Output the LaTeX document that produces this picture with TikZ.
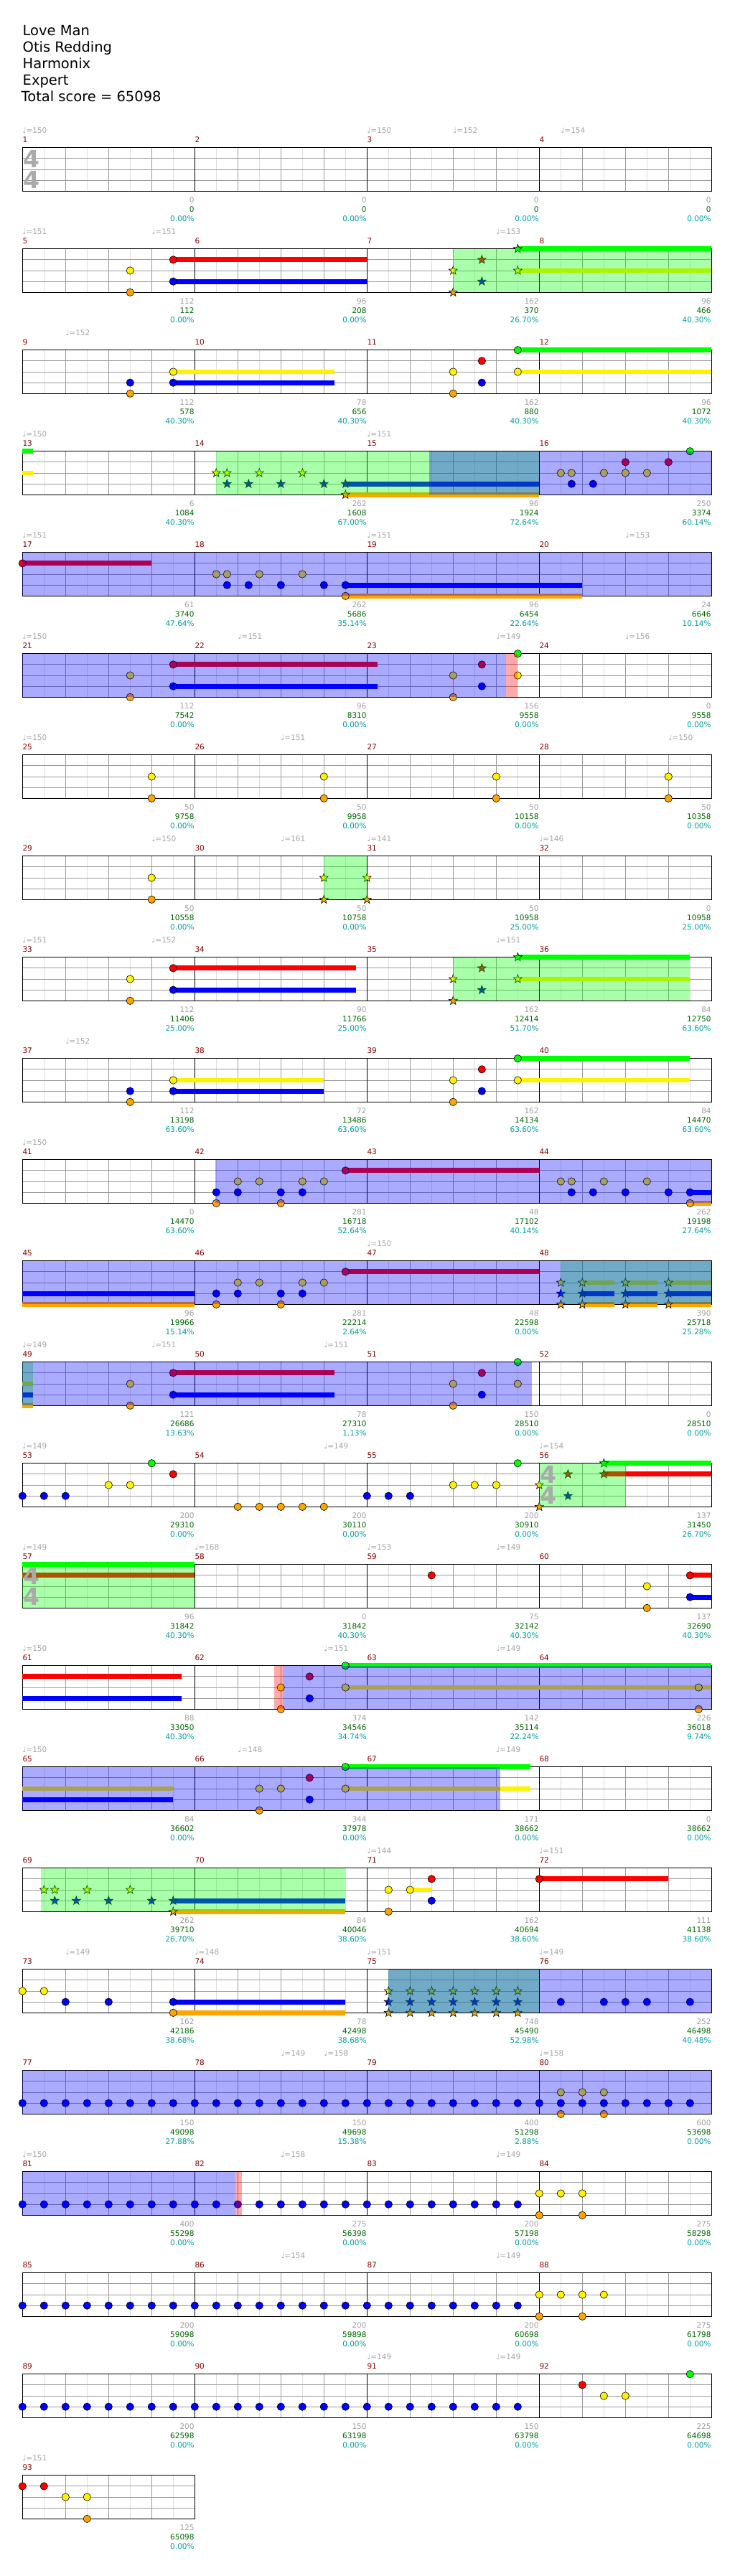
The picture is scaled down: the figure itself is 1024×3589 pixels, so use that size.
\documentclass[tikz,border=0pt]{standalone}
\usepackage{fontspec}
\setmainfont{DejaVu Sans}
\pgfdeclarelayer{bg}
\pgfsetlayers{bg,main}
\definecolor{ybcol}{RGB}{255,255,204}
\definecolor{mnumc}{RGB}{140,0,0}
\definecolor{tmc}{RGB}{165,165,165}
\definecolor{sgc}{RGB}{160,160,160}
\definecolor{sgrc}{RGB}{0,105,0}
\definecolor{spc}{RGB}{0,160,160}
\definecolor{lgc}{RGB}{222,222,222}
\definecolor{mgc}{RGB}{155,155,155}
\definecolor{kick}{RGB}{255,165,0}
\definecolor{tsc}{RGB}{170,170,170}
\newcount\lblcnt
\newcommand\dRow[1]{\pgfmathsetmacro\T{205.7+(#1-1)*141}}
\newcommand\dNc[3]{\filldraw[fill=#3,draw=black,line width=0.6pt] ({31.3+60*(#1)},{\T+15.15*(#2)}) circle[radius=5.2pt];}
\newcommand\dNs[3]{\filldraw[fill=#3,draw=black,line width=0.6pt,shift={({31.3+60*(#1)},{\T+15.15*(#2)})}] (270:6.3)--(306:2.6)--(342:6.3)--(18:2.6)--(54:6.3)--(90:2.6)--(126:6.3)--(162:2.6)--(198:6.3)--(234:2.6)--cycle;}
\newcommand\dSu[4]{\fill[#4] ({31.3+60*(#1)},{\T+15.15*(#3)-3.4}) rectangle ({31.3+60*(#2)},{\T+15.15*(#3)+3.4});}
\newcommand\dOv[3]{\fill[#3,fill opacity=0.3333] ({31.3+60*(#1)},{\T}) rectangle ({31.3+60*(#2)},{\T+60.6});}
\newcommand\dYb[2]{\begin{pgfonlayer}{bg}\fill[ybcol] ({31.3+60*(#1)},{\T-10}) rectangle ({31.3+60*(#2)},{\T+71});\end{pgfonlayer}}
\newcommand\dTm[2]{\global\advance\lblcnt by 1 \node[tempo] (t\the\lblcnt) at ({31.3+60*(#1)},{\T-20}) {♩=#2};}
\newcommand\dTs[1]{\global\advance\lblcnt by 1 \node[tsig] (ts\the\lblcnt) at ({44.3+60*(#1)},{\T+27.3}) {4};\node[tsig] (tt\the\lblcnt) at ({44.3+60*(#1)},{\T+57}) {4};}
\newcommand\dSc[4]{\global\advance\lblcnt by 1
  \node[sg] (g\the\lblcnt) at ({30.8+240*(#1+1)},{\T+76.4}) {#2};
  \node[sgr] (c\the\lblcnt) at ({30.8+240*(#1+1)},{\T+89.7}) {#3};
  \node[sp] (p\the\lblcnt) at ({30.8+240*(#1+1)},{\T+102.4}) {#4};}
\tikzset{
  small/.style={inner sep=0pt,font=\fontsize{10.5}{12}\selectfont},
  tempo/.style={small,text=tmc,anchor=base west},
  mnum/.style={small,text=mnumc,anchor=base west},
  sg/.style={small,text=sgc,anchor=base east},
  sgr/.style={small,text=sgrc,anchor=base east},
  sp/.style={small,text=spc,anchor=base east},
  title/.style={inner sep=0pt,anchor=base west,font=\fontsize{19.5}{22}\selectfont},
  tsig/.style={inner sep=0pt,anchor=base,text=tsc,font=\bfseries\fontsize{33}{36}\selectfont},
}
\begin{document}
\begin{tikzpicture}[x=1pt,y=-1pt]
\useasboundingbox (0,0) rectangle (1024,3589);
\fill[white] (0,0) rectangle (1024,3589);
% title
\node[title] (ti1) at (31.5,49.3) {Love Man};
\node[title] (ti2) at (31.5,72.3) {Otis Redding};
\node[title] (ti3) at (31.5,95.3) {Harmonix};
\node[title] (ti4) at (31.5,118.3) {Expert};
\node[title] (ti5) at (29.5,141.3) {Total score = 65098};
% grids
\foreach \r in {1,...,24} {
  \pgfmathsetmacro\TT{205.7+(\r-1)*141}
  \pgfmathtruncatemacro\nm{\r==24 ? 1 : 4}
  \pgfmathtruncatemacro\ne{8*\nm-1}
  \pgfmathtruncatemacro\nb{4*\nm-1}
  \pgfmathsetmacro\W{240*\nm}
  \foreach \j in {1,3,...,\ne} \draw[lgc,line width=0.8pt] ({31.3+30*\j},\TT) -- ({31.3+30*\j},{\TT+60.6});
  \foreach \i in {1,2,3} \draw[mgc,line width=0.9pt] (31.3,{\TT+15.15*\i}) -- ({31.3+\W},{\TT+15.15*\i});
  \foreach \j in {1,...,\nb} \draw[mgc,line width=0.9pt] ({31.3+60*\j},\TT) -- ({31.3+60*\j},{\TT+60.6});
  \foreach \j in {0,...,\nm} \draw[black,line width=0.9pt] ({31.3+240*\j},\TT) -- ({31.3+240*\j},{\TT+60.6});
  \draw[black,line width=1.2pt] (31.3,\TT) rectangle ({31.3+\W},{\TT+60.6});
  \foreach \c in {1,...,\nm} {
    \pgfmathtruncatemacro\mn{(\r-1)*4+\c}
    \node[mnum] (m\mn) at ({31.3+240*(\c-1)},{\TT-7.6}) {\mn};
  }
}
% row 1
\dRow{1}
\dTm{0}{150}\dTm{8}{150}\dTm{10}{152}\dTm{12.5}{154}
\dTs{0}
\dSc{0}{0}{0}{0.00\%}\dSc{1}{0}{0}{0.00\%}\dSc{2}{0}{0}{0.00\%}\dSc{3}{0}{0}{0.00\%}
% row 2
\dRow{2}
\dTm{0}{151}\dTm{3}{151}\dTm{11}{153}
\dSu{3.5}{8}{1}{red}\dSu{3.5}{8}{3}{blue}\dSu{11.5}{16}{0}{green}\dSu{11.5}{16}{2}{yellow}
\dNc{2.5}{2}{yellow}\dNc{2.5}{4}{kick}\dNc{3.5}{1}{red}\dNc{3.5}{3}{blue}
\dNs{10}{2}{yellow}\dNs{10}{4}{kick}\dNs{10.667}{1}{red}\dNs{10.667}{3}{blue}\dNs{11.5}{0}{green}\dNs{11.5}{2}{yellow}
\dOv{10}{16}{green}
\dSc{0}{112}{112}{0.00\%}\dSc{1}{96}{208}{0.00\%}\dSc{2}{162}{370}{26.70\%}\dSc{3}{96}{466}{40.30\%}
% row 3
\dRow{3}
\dTm{1}{152}
\dSu{3.5}{7.25}{2}{yellow}\dSu{3.5}{7.25}{3}{blue}\dSu{11.5}{16}{0}{green}\dSu{11.5}{16}{2}{yellow}
\dNc{2.5}{3}{blue}\dNc{2.5}{4}{kick}\dNc{3.5}{2}{yellow}\dNc{3.5}{3}{blue}
\dNc{10}{2}{yellow}\dNc{10}{4}{kick}\dNc{10.667}{1}{red}\dNc{10.667}{3}{blue}\dNc{11.5}{0}{green}\dNc{11.5}{2}{yellow}
\dSc{0}{112}{578}{40.30\%}\dSc{1}{78}{656}{40.30\%}\dSc{2}{162}{880}{40.30\%}\dSc{3}{96}{1072}{40.30\%}
% row 4
\dRow{4}
\dTm{0}{150}\dTm{8}{151}
\dYb{4.5}{12}
\dSu{0}{0.24}{0}{green}\dSu{0}{0.24}{2}{yellow}
\dSu{7.5}{12}{3}{blue}\dSu{7.5}{12}{4}{kick}
\dNs{4.5}{2}{yellow}\dNs{4.75}{2}{yellow}\dNs{5.5}{2}{yellow}\dNs{6.5}{2}{yellow}
\dNs{4.75}{3}{blue}\dNs{5.25}{3}{blue}\dNs{6}{3}{blue}\dNs{7}{3}{blue}\dNs{7.5}{3}{blue}\dNs{7.5}{4}{kick}
\dNc{12.5}{2}{yellow}\dNc{12.75}{2}{yellow}\dNc{13.5}{2}{yellow}\dNc{14}{2}{yellow}\dNc{14.5}{2}{yellow}
\dNc{12.75}{3}{blue}\dNc{13.25}{3}{blue}\dNc{14}{1}{red}\dNc{15}{1}{red}\dNc{15.5}{0}{green}
\dOv{4.5}{12}{green}\dOv{9.45}{16}{blue}
\dSc{0}{6}{1084}{40.30\%}\dSc{1}{262}{1608}{67.00\%}\dSc{2}{96}{1924}{72.64\%}\dSc{3}{250}{3374}{60.14\%}
% row 5
\dRow{5}
\dTm{0}{151}\dTm{8}{151}\dTm{14}{153}
\dSu{0}{3}{1}{red}\dSu{7.5}{13}{3}{blue}\dSu{7.5}{13}{4}{kick}
\dNc{0}{1}{red}
\dNc{4.5}{2}{yellow}\dNc{4.75}{2}{yellow}\dNc{5.5}{2}{yellow}\dNc{6.5}{2}{yellow}
\dNc{4.75}{3}{blue}\dNc{5.25}{3}{blue}\dNc{6}{3}{blue}\dNc{7}{3}{blue}\dNc{7.5}{3}{blue}\dNc{7.5}{4}{kick}
\dOv{0}{16}{blue}
\dSc{0}{61}{3740}{47.64\%}\dSc{1}{262}{5686}{35.14\%}\dSc{2}{96}{6454}{22.64\%}\dSc{3}{24}{6646}{10.14\%}
% row 6
\dRow{6}
\dTm{0}{150}\dTm{5}{151}\dTm{11}{149}\dTm{14}{156}
\dSu{3.5}{8.25}{1}{red}\dSu{3.5}{8.25}{3}{blue}
\dNc{2.5}{2}{yellow}\dNc{2.5}{4}{kick}\dNc{3.5}{1}{red}\dNc{3.5}{3}{blue}
\dNc{10}{2}{yellow}\dNc{10}{4}{kick}\dNc{10.667}{1}{red}\dNc{10.667}{3}{blue}\dNc{11.5}{0}{green}\dNc{11.5}{2}{yellow}
\dOv{0}{11.23}{blue}\dOv{11.23}{11.5}{red}
\dSc{0}{112}{7542}{0.00\%}\dSc{1}{96}{8310}{0.00\%}\dSc{2}{156}{9558}{0.00\%}\dSc{3}{0}{9558}{0.00\%}
% row 7
\dRow{7}
\dTm{0}{150}\dTm{6}{151}\dTm{15}{150}
\dNc{3}{2}{yellow}\dNc{3}{4}{kick}\dNc{7}{2}{yellow}\dNc{7}{4}{kick}\dNc{11}{2}{yellow}\dNc{11}{4}{kick}\dNc{15}{2}{yellow}\dNc{15}{4}{kick}
\dSc{0}{50}{9758}{0.00\%}\dSc{1}{50}{9958}{0.00\%}\dSc{2}{50}{10158}{0.00\%}\dSc{3}{50}{10358}{0.00\%}
% row 8
\dRow{8}
\dTm{3}{150}\dTm{6}{161}\dTm{8}{141}\dTm{12}{146}
\dYb{7}{8}
\dNc{3}{2}{yellow}\dNc{3}{4}{kick}
\dNs{7}{2}{yellow}\dNs{7}{4}{kick}\dNs{8}{2}{yellow}\dNs{8}{4}{kick}
\dOv{7}{8}{green}
\dSc{0}{50}{10558}{0.00\%}\dSc{1}{50}{10758}{0.00\%}\dSc{2}{50}{10958}{25.00\%}\dSc{3}{0}{10958}{25.00\%}
% row 9
\dRow{9}
\dTm{0}{151}\dTm{3}{152}\dTm{11}{151}
\dSu{3.5}{7.75}{1}{red}\dSu{3.5}{7.75}{3}{blue}\dSu{11.5}{15.5}{0}{green}\dSu{11.5}{15.5}{2}{yellow}
\dNc{2.5}{2}{yellow}\dNc{2.5}{4}{kick}\dNc{3.5}{1}{red}\dNc{3.5}{3}{blue}
\dNs{10}{2}{yellow}\dNs{10}{4}{kick}\dNs{10.667}{1}{red}\dNs{10.667}{3}{blue}\dNs{11.5}{0}{green}\dNs{11.5}{2}{yellow}
\dOv{10}{15.5}{green}
\dSc{0}{112}{11406}{25.00\%}\dSc{1}{90}{11766}{25.00\%}\dSc{2}{162}{12414}{51.70\%}\dSc{3}{84}{12750}{63.60\%}
% row 10
\dRow{10}
\dTm{1}{152}
\dSu{3.5}{7}{2}{yellow}\dSu{3.5}{7}{3}{blue}\dSu{11.5}{15.5}{0}{green}\dSu{11.5}{15.5}{2}{yellow}
\dNc{2.5}{3}{blue}\dNc{2.5}{4}{kick}\dNc{3.5}{2}{yellow}\dNc{3.5}{3}{blue}
\dNc{10}{2}{yellow}\dNc{10}{4}{kick}\dNc{10.667}{1}{red}\dNc{10.667}{3}{blue}\dNc{11.5}{0}{green}\dNc{11.5}{2}{yellow}
\dSc{0}{112}{13198}{63.60\%}\dSc{1}{72}{13486}{63.60\%}\dSc{2}{162}{14134}{63.60\%}\dSc{3}{84}{14470}{63.60\%}
% row 11
\dRow{11}
\dTm{0}{150}
\dSu{7.5}{12}{1}{red}\dSu{15.5}{16}{3}{blue}\dSu{15.5}{16}{4}{kick}
\dNc{4.5}{3}{blue}\dNc{5}{3}{blue}\dNc{6}{3}{blue}\dNc{6.5}{3}{blue}\dNc{12.75}{3}{blue}\dNc{13.25}{3}{blue}\dNc{14}{3}{blue}\dNc{15}{3}{blue}\dNc{15.5}{3}{blue}
\dNc{4.5}{4}{kick}\dNc{6}{4}{kick}\dNc{15.5}{4}{kick}
\dNc{5}{2}{yellow}\dNc{5.5}{2}{yellow}\dNc{6.5}{2}{yellow}\dNc{7}{2}{yellow}\dNc{12.5}{2}{yellow}\dNc{12.75}{2}{yellow}\dNc{13.5}{2}{yellow}\dNc{14.5}{2}{yellow}
\dNc{7.5}{1}{red}
\dOv{4.47}{16}{blue}
\dSc{0}{0}{14470}{63.60\%}\dSc{1}{281}{16718}{52.64\%}\dSc{2}{48}{17102}{40.14\%}\dSc{3}{262}{19198}{27.64\%}
% row 12
\dRow{12}
\dTm{8}{150}
\dSu{0}{4}{3}{blue}\dSu{0}{4}{4}{kick}\dSu{7.5}{12}{1}{red}
\foreach \s/\e in {13/13.75,14/14.75,15/16} {\dSu{\s}{\e}{2}{yellow}\dSu{\s}{\e}{3}{blue}\dSu{\s}{\e}{4}{kick}}
\dNc{4.5}{3}{blue}\dNc{5}{3}{blue}\dNc{6}{3}{blue}\dNc{6.5}{3}{blue}
\dNc{4.5}{4}{kick}\dNc{6}{4}{kick}
\dNc{5}{2}{yellow}\dNc{5.5}{2}{yellow}\dNc{6.5}{2}{yellow}\dNc{7}{2}{yellow}
\dNc{7.5}{1}{red}
\foreach \s in {12.5,13,14,15} {\dNs{\s}{2}{yellow}\dNs{\s}{3}{blue}\dNs{\s}{4}{kick}}
\dOv{12.5}{16}{green}\dOv{0}{16}{blue}
\dSc{0}{96}{19966}{15.14\%}\dSc{1}{281}{22214}{2.64\%}\dSc{2}{48}{22598}{0.00\%}\dSc{3}{390}{25718}{25.28\%}
% row 13
\dRow{13}
\dTm{0}{149}\dTm{3}{151}\dTm{7}{151}
\dSu{0}{0.24}{2}{yellow}\dSu{0}{0.24}{3}{blue}\dSu{0}{0.24}{4}{kick}
\dSu{3.5}{7.25}{1}{red}\dSu{3.5}{7.25}{3}{blue}
\dNc{2.5}{2}{yellow}\dNc{2.5}{4}{kick}\dNc{3.5}{1}{red}\dNc{3.5}{3}{blue}
\dNc{10}{2}{yellow}\dNc{10}{4}{kick}\dNc{10.667}{1}{red}\dNc{10.667}{3}{blue}\dNc{11.5}{0}{green}\dNc{11.5}{2}{yellow}
\dOv{0}{0.24}{green}\dOv{0}{11.83}{blue}
\dSc{0}{121}{26686}{13.63\%}\dSc{1}{78}{27310}{1.13\%}\dSc{2}{150}{28510}{0.00\%}\dSc{3}{0}{28510}{0.00\%}
% row 14
\dRow{14}
\dTm{0}{149}\dTm{7}{149}\dTm{12}{154}
\dYb{12}{14}
\dNc{0}{3}{blue}\dNc{0.5}{3}{blue}\dNc{1}{3}{blue}\dNc{2}{2}{yellow}\dNc{2.5}{2}{yellow}\dNc{3}{0}{green}\dNc{3.5}{1}{red}
\foreach \b in {5,5.5,6,6.5,7} {\dNc{\b}{4}{kick}}
\dNc{8}{3}{blue}\dNc{8.5}{3}{blue}\dNc{9}{3}{blue}\dNc{10}{2}{yellow}\dNc{10.5}{2}{yellow}\dNc{11}{2}{yellow}\dNc{11.5}{0}{green}
\dSu{13.5}{16}{0}{green}\dSu{13.5}{16}{1}{red}
\dNs{12}{2}{yellow}\dNs{12}{4}{kick}\dNs{12.667}{1}{red}\dNs{12.667}{3}{blue}\dNs{13.5}{0}{green}\dNs{13.5}{1}{red}
\dOv{12}{14}{green}
\dTs{12}
\dSc{0}{200}{29310}{0.00\%}\dSc{1}{200}{30110}{0.00\%}\dSc{2}{200}{30910}{0.00\%}\dSc{3}{137}{31450}{26.70\%}
% row 15
\dRow{15}
\dTm{0}{149}\dTm{4}{168}\dTm{8}{153}\dTm{11}{149}
\dYb{0}{4}
\dSu{0}{4}{0}{green}\dSu{0}{4}{1}{red}
\dOv{0}{4}{green}
\dTs{0}
\dNc{9.5}{1}{red}
\dSu{15.5}{16}{1}{red}\dSu{15.5}{16}{3}{blue}
\dNc{14.5}{2}{yellow}\dNc{14.5}{4}{kick}\dNc{15.5}{1}{red}\dNc{15.5}{3}{blue}
\dSc{0}{96}{31842}{40.30\%}\dSc{1}{0}{31842}{40.30\%}\dSc{2}{75}{32142}{40.30\%}\dSc{3}{137}{32690}{40.30\%}
% row 16
\dRow{16}
\dTm{0}{150}\dTm{7}{151}\dTm{11}{149}
\dSu{0}{3.7}{1}{red}\dSu{0}{3.7}{3}{blue}
\dNc{6}{2}{yellow}\dNc{6}{4}{kick}\dNc{6.667}{1}{red}\dNc{6.667}{3}{blue}
\dSu{7.5}{16}{0}{green}\dSu{7.5}{16}{2}{yellow}\dNc{7.5}{0}{green}\dNc{7.5}{2}{yellow}
\dNc{15.7}{2}{yellow}\dNc{15.7}{4}{kick}
\dOv{5.85}{6.05}{red}\dOv{6.05}{16}{blue}
\dSc{0}{88}{33050}{40.30\%}\dSc{1}{374}{34546}{34.74\%}\dSc{2}{142}{35114}{22.24\%}\dSc{3}{226}{36018}{9.74\%}
% row 17
\dRow{17}
\dTm{0}{150}\dTm{5}{148}\dTm{11}{149}
\dSu{0}{3.5}{2}{yellow}\dSu{0}{3.5}{3}{blue}
\dNc{5.5}{2}{yellow}\dNc{5.5}{4}{kick}\dNc{6}{2}{yellow}\dNc{6.667}{1}{red}\dNc{6.667}{3}{blue}
\dSu{7.5}{11.8}{0}{green}\dSu{7.5}{11.8}{2}{yellow}\dNc{7.5}{0}{green}\dNc{7.5}{2}{yellow}
\dOv{0}{11.1}{blue}
\dSc{0}{84}{36602}{0.00\%}\dSc{1}{344}{37978}{0.00\%}\dSc{2}{171}{38662}{0.00\%}\dSc{3}{0}{38662}{0.00\%}
% row 18
\dRow{18}
\dTm{8}{144}\dTm{12}{151}
\dYb{0}{7.5}
\dSu{3.5}{7.5}{3}{blue}\dSu{3.5}{7.5}{4}{kick}
\dNs{0.5}{2}{yellow}\dNs{0.75}{2}{yellow}\dNs{1.5}{2}{yellow}\dNs{2.5}{2}{yellow}
\dNs{0.75}{3}{blue}\dNs{1.25}{3}{blue}\dNs{2}{3}{blue}\dNs{3}{3}{blue}\dNs{3.5}{3}{blue}\dNs{3.5}{4}{kick}
\dOv{0.43}{7.5}{green}
\dSu{9}{9.5}{2}{yellow}
\dNc{8.5}{2}{yellow}\dNc{8.5}{4}{kick}\dNc{9}{2}{yellow}\dNc{9.5}{1}{red}\dNc{9.5}{3}{blue}
\dSu{12}{15}{1}{red}\dNc{12}{1}{red}
\dSc{0}{262}{39710}{26.70\%}\dSc{1}{84}{40046}{38.60\%}\dSc{2}{162}{40694}{38.60\%}\dSc{3}{111}{41138}{38.60\%}
% row 19
\dRow{19}
\dTm{1}{149}\dTm{4}{148}\dTm{8}{151}\dTm{12}{149}
\dNc{0}{2}{yellow}\dNc{0.5}{2}{yellow}\dNc{1}{3}{blue}\dNc{2}{3}{blue}
\dSu{3.5}{7.5}{3}{blue}\dSu{3.5}{7.5}{4}{kick}\dNc{3.5}{3}{blue}\dNc{3.5}{4}{kick}
\foreach \b in {8.5,9,9.5,10,10.5,11,11.5} {\dNs{\b}{2}{yellow}\dNs{\b}{3}{blue}\dNs{\b}{4}{kick}}
\foreach \b in {12.5,13.5,14,14.5,15.5} {\dNc{\b}{3}{blue}}
\dOv{8.5}{12}{green}\dOv{8.5}{16}{blue}
\dSc{0}{162}{42186}{38.68\%}\dSc{1}{78}{42498}{38.68\%}\dSc{2}{748}{45490}{52.98\%}\dSc{3}{252}{46498}{40.48\%}
% row 20
\dRow{20}
\dTm{6}{149}\dTm{7}{158}\dTm{12}{158}
\foreach \b in {0,0.5,...,15.5} {\dNc{\b}{3}{blue}}
\dNc{12.5}{2}{yellow}\dNc{13}{2}{yellow}\dNc{13.5}{2}{yellow}\dNc{12.5}{4}{kick}\dNc{13.5}{4}{kick}
\dOv{0}{16}{blue}
\dSc{0}{150}{49098}{27.88\%}\dSc{1}{150}{49698}{15.38\%}\dSc{2}{400}{51298}{2.88\%}\dSc{3}{600}{53698}{0.00\%}
% row 21
\dRow{21}
\dTm{0}{150}\dTm{6}{158}\dTm{11}{149}
\foreach \b in {0,0.5,...,11.5} {\dNc{\b}{3}{blue}}
\dNc{12}{2}{yellow}\dNc{12.5}{2}{yellow}\dNc{13}{2}{yellow}\dNc{12}{4}{kick}\dNc{13}{4}{kick}
\dOv{0}{4.94}{blue}\dOv{4.94}{5.1}{red}
\dSc{0}{400}{55298}{0.00\%}\dSc{1}{275}{56398}{0.00\%}\dSc{2}{200}{57198}{0.00\%}\dSc{3}{275}{58298}{0.00\%}
% row 22
\dRow{22}
\dTm{6}{154}\dTm{11}{149}
\foreach \b in {0,0.5,...,11.5} {\dNc{\b}{3}{blue}}
\dNc{12}{2}{yellow}\dNc{12.5}{2}{yellow}\dNc{13}{2}{yellow}\dNc{13.5}{2}{yellow}\dNc{12}{4}{kick}\dNc{13}{4}{kick}
\dSc{0}{200}{59098}{0.00\%}\dSc{1}{200}{59898}{0.00\%}\dSc{2}{200}{60698}{0.00\%}\dSc{3}{275}{61798}{0.00\%}
% row 23
\dRow{23}
\dTm{8}{149}\dTm{11}{149}
\foreach \b in {0,0.5,...,11.5} {\dNc{\b}{3}{blue}}
\dNc{13}{1}{red}\dNc{13.5}{2}{yellow}\dNc{14}{2}{yellow}\dNc{15.5}{0}{green}
\dSc{0}{200}{62598}{0.00\%}\dSc{1}{150}{63198}{0.00\%}\dSc{2}{150}{63798}{0.00\%}\dSc{3}{225}{64698}{0.00\%}
% row 24
\dRow{24}
\dTm{0}{151}
\dNc{0}{1}{red}\dNc{0.5}{1}{red}\dNc{1}{2}{yellow}\dNc{1.5}{2}{yellow}\dNc{1.5}{4}{kick}
\dSc{0}{125}{65098}{0.00\%}
\end{tikzpicture}
\end{document}
